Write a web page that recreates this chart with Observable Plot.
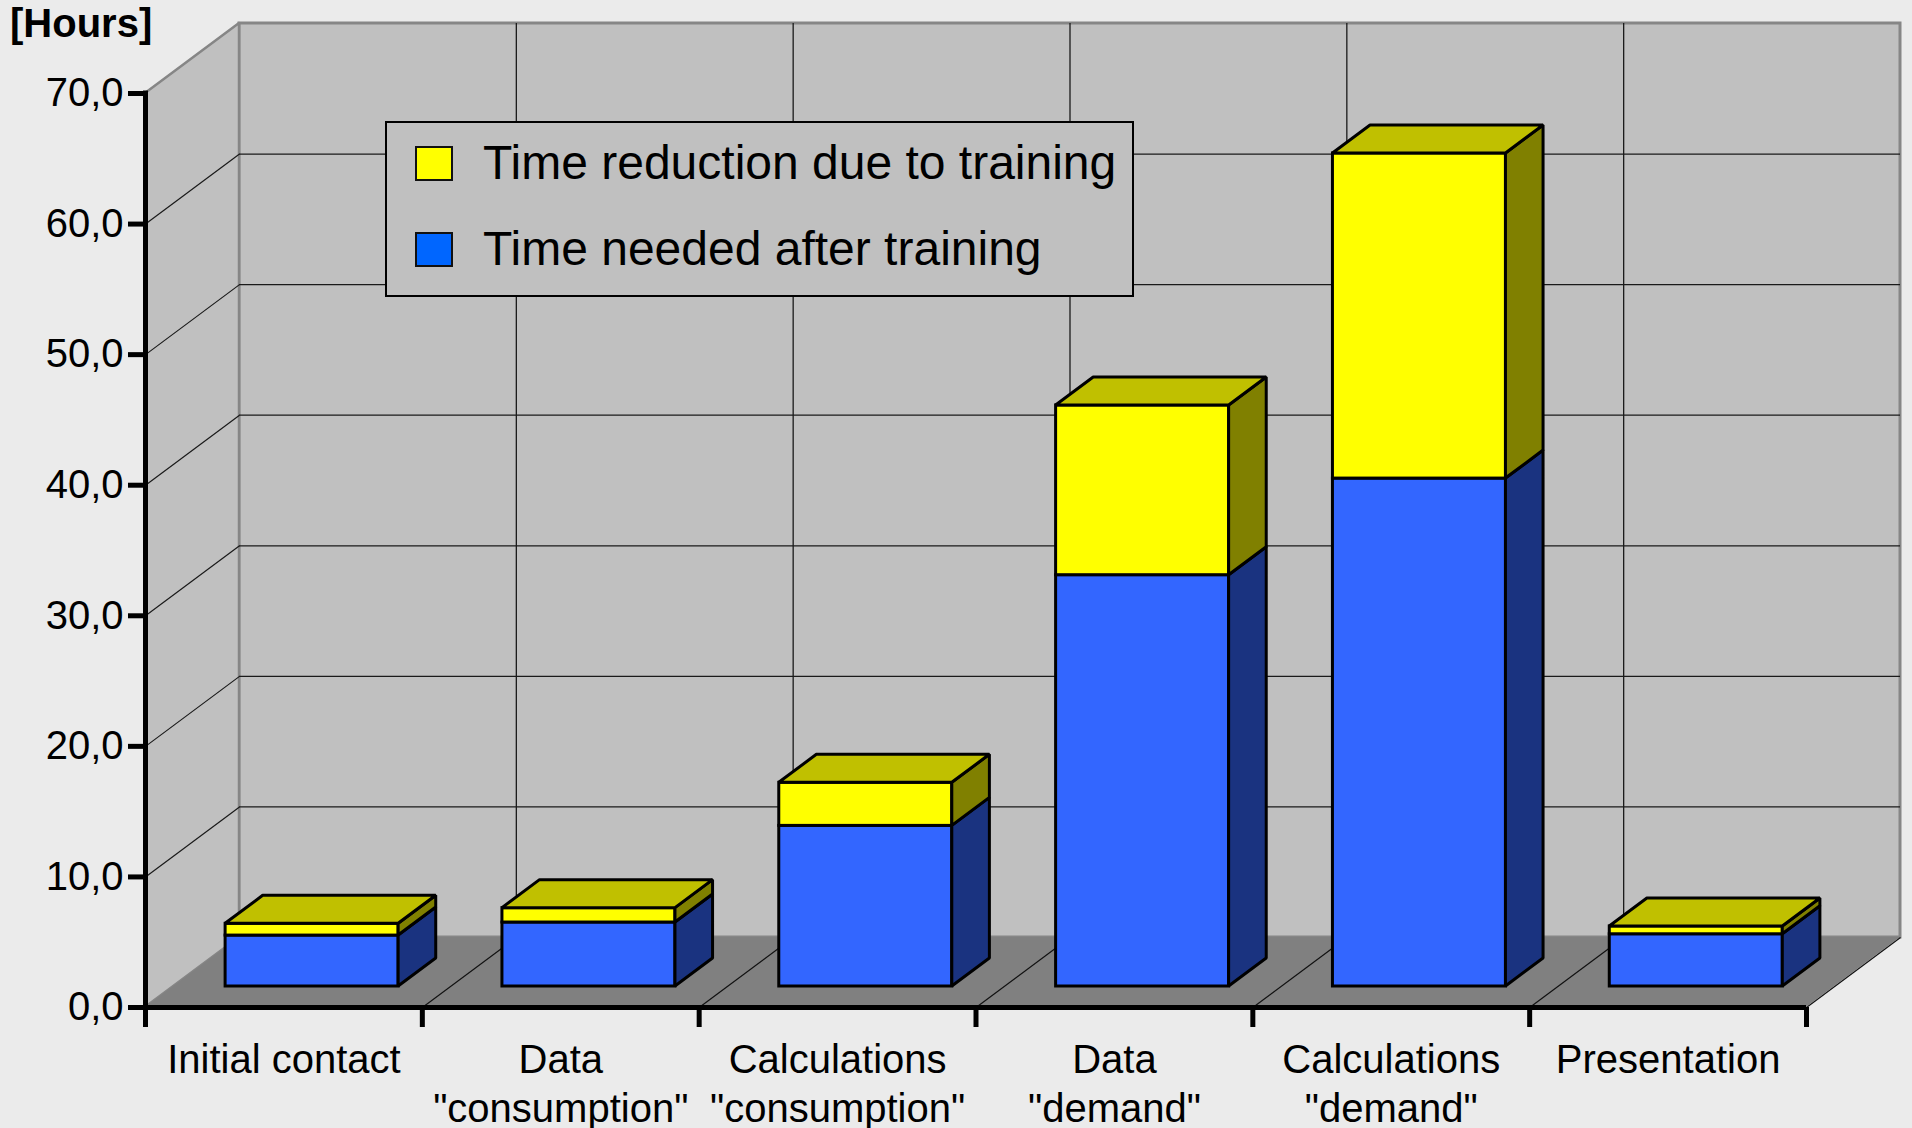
<!DOCTYPE html>
<html>
<head>
<meta charset="utf-8">
<script src="https://cdn.jsdelivr.net/npm/d3@7"></script>
<script src="https://cdn.jsdelivr.net/npm/@observablehq/plot@0.6"></script>
<style>
html, body { margin: 0; padding: 0; background: #ebebeb; }
#wrap { position: relative; width: 1912px; height: 1128px; font-family: "Liberation Sans", Arial, sans-serif; color: #000; }
#hours { position: absolute; left: 10px; top: 3px; font-weight: bold; font-size: 40px; line-height: 40px; }
#legend { position: absolute; left: 385px; top: 121px; width: 749px; height: 176px; background: #c0c0c0; border: 2.5px solid #000; box-sizing: border-box; }
.item { position: absolute; left: 0; height: 40px; display: flex; align-items: center; }
.sw { width: 38px; height: 35px; border: 2px solid #111; box-sizing: border-box; margin-left: 28px; margin-right: 30px; }
.lab { font-size: 48px; line-height: 40px; white-space: nowrap; }
</style>
</head>
<body>
<div id="wrap">
  <div id="chart"></div>
  <div id="hours">[Hours]</div>
  <div id="legend"></div>
</div>
<script>
// ---- data ----
const categories = ["Initial contact", "Data\n\"consumption\"", "Calculations\n\"consumption\"", "Data\n\"demand\"", "Calculations\n\"demand\"", "Presentation"];
const neededAfter = [3.9, 4.9, 12.3, 31.5, 38.9, 4.0];      // blue
const reduction   = [0.9, 1.1, 3.3, 13.0, 24.9, 0.6];       // yellow
const seriesNames = ["Time reduction due to training", "Time needed after training"];
const yTicks = [0, 10, 20, 30, 40, 50, 60, 70];

// ---- layout / style ----
const W = 1912, H = 1128, mL = 145, mR = 106, mT = 93, mB = 121;
const n = categories.length, yMax = 70;
const DX = 94, DY = 70;                 // 3D depth offset in px
const pxX = (W - mL - mR) / n, pxY = (H - mT - mB) / yMax;
const dxU = DX / pxX, dyU = DY / pxY;   // depth in data units
const f0 = 0.3, f1 = 0.7;               // bar depth placement
const barW = 0.625, pad = (1 - barW) / 2;
const C = {wall: "#c0c0c0", floor: "#808080", edge: "#868686", blue: "#3366ff", blueSide: "#1a3380",
           yellow: "#ffff00", yellowTop: "#c0c000", yellowSide: "#808000"};

// build segments
const fronts = [], sides = [], tops = [];
categories.forEach((c, i) => {
  const x1 = i + pad + f0 * dxU, x2 = x1 + barW, base = f0 * dyU;
  const segs = [
    {key: "blue", lo: 0, hi: neededAfter[i]},
    {key: "yellow", lo: neededAfter[i], hi: neededAfter[i] + reduction[i]}
  ];
  segs.forEach(s => {
    const id = c + s.key;
    fronts.push({id, key: s.key, x1, x2, y1: base + s.lo, y2: base + s.hi});
    sides.push({id, key: s.key, x: x2, y1: base + s.lo, y2: base + s.hi});
    sides.push({id, key: s.key, x: x2 + (f1 - f0) * dxU, y1: base + s.lo + (f1 - f0) * dyU, y2: base + s.hi + (f1 - f0) * dyU});
  });
  const top = base + neededAfter[i] + reduction[i];
  tops.push({id: c, y: top, x1, x2});
  tops.push({id: c, y: top + (f1 - f0) * dyU, x1: x1 + (f1 - f0) * dxU, x2: x2 + (f1 - f0) * dxU});
});

const sideWall = [{x: 0, y1: 0, y2: yMax}, {x: dxU, y1: dyU, y2: yMax + dyU}];
const floor = [{y: 0, x1: 0, x2: n}, {y: dyU, x1: dxU, x2: n + dxU}];
const backWall = [{x1: dxU, x2: n + dxU, y1: dyU, y2: yMax + dyU}];
const gridV = yTicks.filter(v => v > 0 && v < yMax);
const bounds = d3.range(1, n + 1);
const fmt = d => d.toFixed(1).replace(".", ",");

const chart = Plot.plot({
  width: W, height: H,
  marginLeft: mL, marginRight: mR, marginTop: mT, marginBottom: mB,
  x: {type: "linear", domain: [0, n]},
  y: {type: "linear", domain: [0, yMax]},
  style: {background: "transparent", fontFamily: "'Liberation Sans', Arial, sans-serif", color: "#000", overflow: "visible"},
  marks: [
    // walls
    Plot.rect(backWall, {x1: "x1", x2: "x2", y1: "y1", y2: "y2", fill: C.wall, stroke: C.edge, strokeWidth: 3}),
    Plot.areaY(sideWall, {x: "x", y1: "y1", y2: "y2", fill: C.wall, stroke: C.edge, strokeWidth: 2.5}),
    Plot.areaX(floor, {y: "y", x1: "x1", x2: "x2", fill: C.floor}),
    // grid on back wall
    Plot.ruleY(gridV, {y: d => d + dyU, x1: () => dxU, x2: () => n + dxU, stroke: "#1a1a1a", strokeWidth: 1.3}),
    Plot.ruleX(d3.range(1, n), {x: d => d + dxU, y1: () => dyU, y2: () => yMax + dyU, stroke: "#1a1a1a", strokeWidth: 1.3}),
    // grid on side wall
    Plot.link(gridV, {x1: () => 0, y1: d => d, x2: () => dxU, y2: d => d + dyU, stroke: "#1a1a1a", strokeWidth: 1.2}),
    // floor lines
    Plot.link(bounds, {x1: d => d, y1: () => 0, x2: d => d + dxU, y2: () => dyU, stroke: "#111", strokeWidth: 1.2}),
    // bars: front faces
    Plot.rect(fronts, {x1: "x1", x2: "x2", y1: "y1", y2: "y2", fill: d => d.key === "blue" ? C.blue : C.yellow, stroke: "#000", strokeWidth: 3}),
    // side faces
    Plot.areaY(sides.filter(d => d.key === "blue"), {x: "x", y1: "y1", y2: "y2", z: "id", fill: C.blueSide, stroke: "#000", strokeWidth: 3, strokeLinejoin: "miter"}),
    Plot.areaY(sides.filter(d => d.key === "yellow"), {x: "x", y1: "y1", y2: "y2", z: "id", fill: C.yellowSide, stroke: "#000", strokeWidth: 3, strokeLinejoin: "miter"}),
    // top faces
    Plot.areaX(tops, {y: "y", x1: "x1", x2: "x2", z: "id", fill: C.yellowTop, stroke: "#000", strokeWidth: 3, strokeLinejoin: "miter"}),
    // axes
    Plot.ruleY([0], {x1: () => 0, x2: () => n, stroke: "#000", strokeWidth: 5}),
    Plot.ruleX([0], {y1: () => 0, y2: () => yMax, stroke: "#000", strokeWidth: 5, strokeLinecap: "square"}),
    Plot.axisY({ticks: yTicks, tickSize: 17, tickPadding: 5, strokeWidth: 5, tickFormat: fmt, fontSize: 40, label: null}),
    Plot.axisX({ticks: d3.range(0, n + 1), tickSize: 20, strokeWidth: 5, tickFormat: () => "", label: null}),
    Plot.text(categories, {x: (d, i) => i + 0.5, y: () => 0, text: d => d, dy: 31, lineAnchor: "top", lineHeight: 1.22, fontSize: 40, fill: "#000"})
  ]
});
document.getElementById("chart").appendChild(chart);

// legend
const legend = document.getElementById("legend");
const legendColors = ["#ffff00", "#0066ff"];
const rowTops = [20, 106];
seriesNames.forEach((name, i) => {
  const it = document.createElement("div");
  it.className = "item";
  it.style.top = rowTops[i] + "px";
  it.innerHTML = `<div class="sw" style="background:${legendColors[i]}"></div><div class="lab">${name}</div>`;
  legend.appendChild(it);
});
</script>
</body>
</html>
